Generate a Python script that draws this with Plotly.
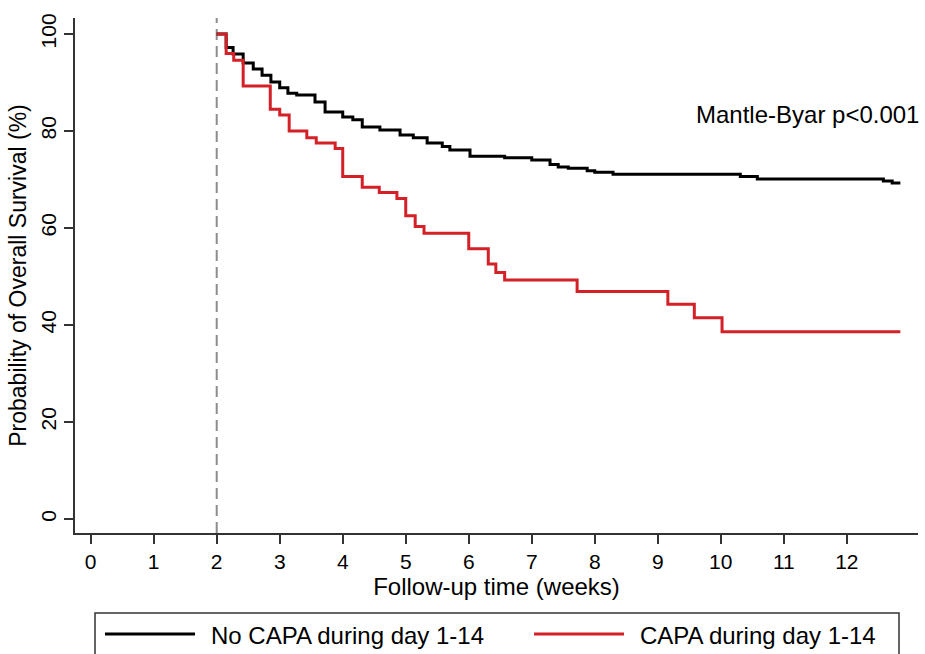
import plotly.graph_objects as go

# Kaplan-Meier style step data (weeks, % surviving)
no_capa_weeks = [2.0, 2.15, 2.26, 2.42, 2.58, 2.72, 2.86, 3.0, 3.13, 3.27, 3.56, 3.72, 4.0, 4.16,
                 4.31, 4.59, 4.91, 5.12, 5.34, 5.58, 5.70, 6.02, 6.57, 7.0, 7.29, 7.42, 7.58, 7.88,
                 8.0, 8.29, 10.31, 10.58, 12.58, 12.72, 12.85]
no_capa_surv = [100, 97.2, 95.9, 94.0, 92.8, 91.5, 90.1, 88.9, 87.8, 87.4, 86.0, 83.9, 82.9, 82.3,
                80.8, 80.2, 79.2, 78.6, 77.5, 76.8, 76.1, 74.8, 74.5, 74.0, 73.1, 72.6, 72.3, 71.8,
                71.5, 71.1, 70.6, 70.1, 69.7, 69.3, 69.3]

capa_weeks = [2.0, 2.15, 2.27, 2.42, 2.85, 3.0, 3.15, 3.43, 3.58, 3.88, 4.0, 4.31, 4.58, 4.86,
              5.0, 5.15, 5.29, 6.0, 6.31, 6.43, 6.57, 7.72, 9.16, 9.58, 10.02, 12.85]
capa_surv = [100, 96.0, 94.6, 89.3, 84.5, 83.3, 80.0, 78.6, 77.5, 76.4, 70.6, 68.4, 67.3, 66.1,
             62.5, 60.3, 58.9, 55.7, 52.6, 50.8, 49.3, 46.9, 44.3, 41.5, 38.6, 38.6]

series_names = ["No CAPA during day 1-14", "CAPA during day 1-14"]
x_ticks = list(range(0, 13))
y_ticks = [0, 20, 40, 60, 80, 100]
landmark_week = 2
p_text = "Mantle-Byar p<0.001"

BLACK = "#000000"
RED = "#d42027"
FONT = "Liberation Sans, Arial, sans-serif"

fig = go.Figure()
fig.add_trace(go.Scatter(x=no_capa_weeks, y=no_capa_surv, mode="lines", line_shape="hv",
                         line=dict(color=BLACK, width=3), name=series_names[0], showlegend=False))
fig.add_trace(go.Scatter(x=capa_weeks, y=capa_surv, mode="lines", line_shape="hv",
                         line=dict(color=RED, width=3), name=series_names[1], showlegend=False))

# dashed landmark line
fig.add_shape(type="line", xref="x", yref="paper", x0=landmark_week, x1=landmark_week, y0=0, y1=1,
              line=dict(color="#8c8c8c", width=2, dash="11px,6px"), layer="below")

W, H = 843.0, 515.0
L, B = 75.0, 533.0
def px(x):
    return (x - L) / W
def py(y):
    return (B - y) / H

# legend (manual, Stata-style)
fig.add_shape(type="rect", xref="paper", yref="paper", x0=px(95), x1=px(899), y0=py(613), y1=py(680),
              line=dict(color="#333333", width=1.5), fillcolor="white")
fig.add_shape(type="line", xref="paper", yref="paper", x0=px(105), x1=px(195), y0=py(634), y1=py(634),
              line=dict(color=BLACK, width=3))
fig.add_shape(type="line", xref="paper", yref="paper", x0=px(534), x1=px(624), y0=py(634), y1=py(634),
              line=dict(color=RED, width=3))
fig.add_annotation(xref="paper", yref="paper", x=px(209), y=py(635), text=series_names[0],
                   showarrow=False, xanchor="left", yanchor="middle",
                   font=dict(family=FONT, size=24, color="black"))
fig.add_annotation(xref="paper", yref="paper", x=px(638), y=py(635), text=series_names[1],
                   showarrow=False, xanchor="left", yanchor="middle",
                   font=dict(family=FONT, size=24, color="black"))

fig.add_annotation(xref="paper", yref="paper", x=px(921), y=py(114), text=p_text, showarrow=False,
                   xanchor="right", yanchor="middle", font=dict(family=FONT, size=24, color="black"))

fig.update_layout(
    width=925, height=654,
    margin=dict(l=75, r=7, t=18, b=121, autoexpand=False),
    paper_bgcolor="white", plot_bgcolor="white",
    font=dict(family=FONT, color="black"),
    showlegend=False,
)
fig.update_xaxes(range=[-0.249, 13.13], tickmode="array", tickvals=x_ticks, automargin=False,
                 ticks="outside", ticklen=9, tickwidth=1.5, tickcolor="#333333",
                 showline=True, linecolor="#333333", linewidth=1.5, showgrid=False, zeroline=False,
                 tickfont=dict(family=FONT, size=21, color="black"),
                 title=dict(text="Follow-up time (weeks)", font=dict(family=FONT, size=24, color="black"),
                            standoff=4))
fig.update_yaxes(range=[-2.89, 103.3], tickmode="array", tickvals=y_ticks, automargin=False,
                 ticks="outside", ticklen=9, tickwidth=1.5, tickcolor="#333333", tickangle=-90,
                 showline=True, linecolor="#333333", linewidth=1.5, showgrid=False, zeroline=False,
                 tickfont=dict(family=FONT, size=21, color="black"),
                 title=dict(text="Probability of Overall Survival (%)",
                            font=dict(family=FONT, size=23, color="black"), standoff=4))

fig.write_html("out.html", config={"displayModeBar": False},
               post_script="document.body.style.margin='0';document.body.style.overflow='hidden';")
